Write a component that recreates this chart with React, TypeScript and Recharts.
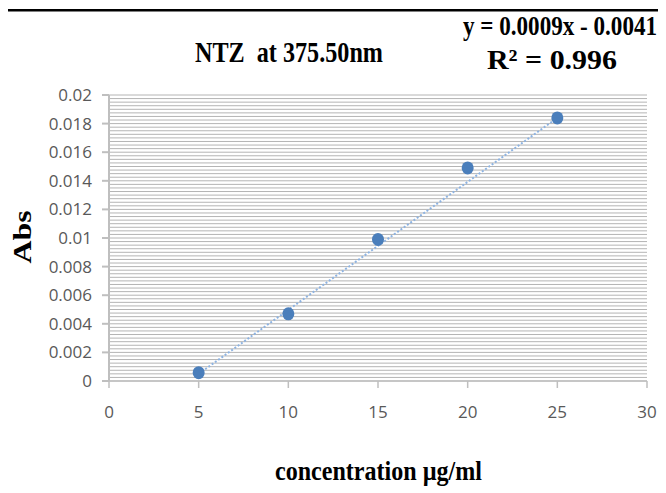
import { ScatterChart, Scatter, XAxis, YAxis, CartesianGrid } from 'recharts'

// measured points (concentration µg/ml vs absorbance)
const concentrations = [5, 10, 15, 20, 25]
const absorbances = [0.00058, 0.0047, 0.0099, 0.0149, 0.0184]

// dotted trend line, end points
const trendX = [5, 25]
const trendY = [0.0005, 0.0184]

const xTicks = [0, 5, 10, 15, 20, 25, 30]
const yTicks = [0, 0.002, 0.004, 0.006, 0.008, 0.01, 0.012, 0.014, 0.016, 0.018, 0.02]
const yTickLabels = ['0', '0.002', '0.004', '0.006', '0.008', '0.01', '0.012', '0.014', '0.016', '0.018', '0.02']
const yMax = 0.02

// minor gridlines, 8 per major step
const minorTicks = Array.from({ length: 81 }, (_, i) => i * 0.00025)

const points = concentrations.map((x, i) => ({ x, y: absorbances[i] }))
const trend = trendX.map((x, i) => ({ x, y: trendY[i] }))

const serif = '"Liberation Serif", "Times New Roman", serif'
const tickStyle = { fill: '#595959', fontSize: 17, fontFamily: '"Open Sans", sans-serif' }

const Dot = (props: any) => <ellipse cx={props.cx} cy={props.cy} rx={6} ry={6.5} fill="#4a7ebb" />

const minorGrid = ({ offset }: any) =>
  minorTicks.map((v) => offset.top + offset.height * (1 - v / yMax))

export default function App() {
  return (
    <div style={{ position: 'relative', width: 666, height: 493, marginLeft: -8, marginTop: -8, background: '#fff' }}>
      <ScatterChart width={666} height={493} margin={{ top: 95, right: 19, bottom: 62, left: 0 }}>
        <CartesianGrid vertical={false} horizontalCoordinatesGenerator={minorGrid} stroke="#b4b4b4" strokeWidth={1} />
        <XAxis
          type="number"
          dataKey="x"
          domain={[0, 30]}
          ticks={xTicks}
          height={50}
          tickSize={7}
          tickMargin={18}
          stroke="#bfbfbf"
          strokeWidth={1.5}
          tick={tickStyle}
        />
        <YAxis
          type="number"
          dataKey="y"
          domain={[0, yMax]}
          ticks={yTicks}
          tickFormatter={(v: number) => yTickLabels[yTicks.indexOf(v)] ?? String(v)}
          width={109}
          tickSize={7}
          tickMargin={10}
          stroke="#bfbfbf"
          strokeWidth={2}
          tick={tickStyle}
        />
        <Scatter
          data={trend}
          line={{ stroke: '#8db3e2', strokeWidth: 2, strokeDasharray: '2 2' }}
          shape={() => <g />}
          isAnimationActive={false}
        />
        <Scatter data={points} shape={Dot} isAnimationActive={false} />
      </ScatterChart>

      <svg width={666} height={493} style={{ position: 'absolute', left: 0, top: 0, pointerEvents: 'none' }}>
        <path d="M5.3 493 V10.3 H666" stroke="#000" strokeWidth={2.6} fill="none" />
        <text x={195} y={62} fontFamily={serif} fontWeight="bold" fontSize={29} textLength={188} lengthAdjust="spacingAndGlyphs" style={{ whiteSpace: 'pre' }} fill="#000">
          NTZ  at 375.50nm
        </text>
        <text x={0} y={0} transform="translate(463 35) scale(0.825 1)" fontFamily={serif} fontWeight="bold" fontSize={28} fill="#000">
          y = 0.0009x - 0.0041
        </text>
        <text x={487} y={69} fontFamily={serif} fontWeight="bold" fontSize={28} textLength={130} lengthAdjust="spacingAndGlyphs" fill="#000">
          R² = 0.996
        </text>
        <text x={0} y={0} transform="translate(31 237) rotate(-90)" textAnchor="middle" fontFamily={serif} fontWeight="bold" fontSize={25} textLength={53} lengthAdjust="spacingAndGlyphs" fill="#000">
          Abs
        </text>
        <text x={275} y={480} fontFamily={serif} fontWeight="bold" fontSize={28} textLength={207} lengthAdjust="spacingAndGlyphs" fill="#000">
          concentration µg/ml
        </text>
      </svg>
    </div>
  )
}
